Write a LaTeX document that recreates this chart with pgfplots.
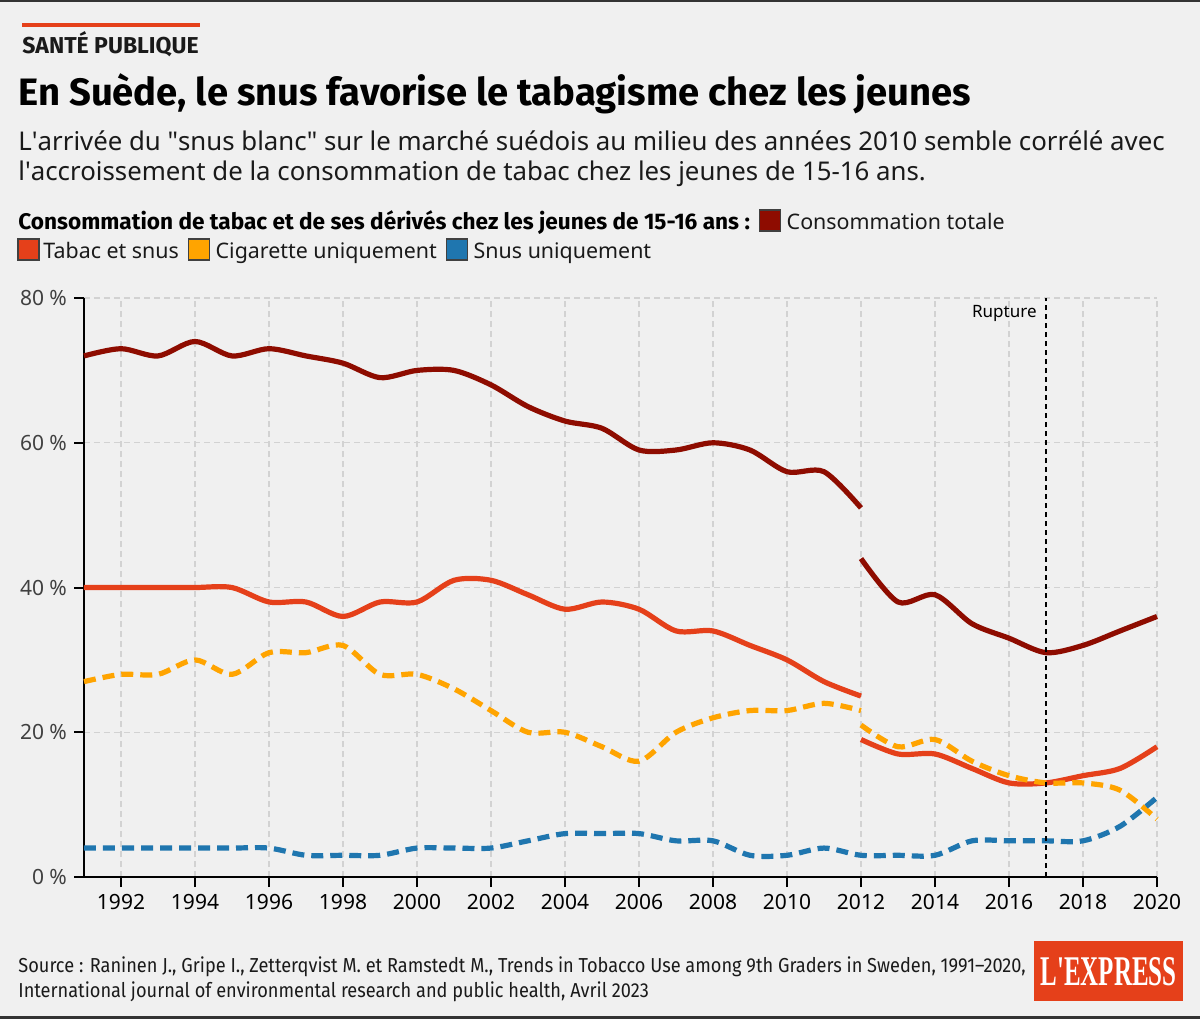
\documentclass[border=0pt]{standalone}
\usepackage{fontspec}
\setmainfont{Noto Sans}
\newfontfamily\titlefont{Fira Sans}
\newfontfamily\condfont{Fira Sans}[FakeStretch=0.9]
\newfontfamily\logofont{Liberation Serif}
\usepackage{pgfplots}
\usetikzlibrary{calc}
\pgfplotsset{compat=1.18}
\definecolor{bg}{HTML}{F0F0F0}
\definecolor{ctot}{HTML}{8E0C00}
\definecolor{ctab}{HTML}{E5401A}
\definecolor{ccig}{HTML}{FFA400}
\definecolor{csnus}{HTML}{1F76AF}
\definecolor{gridc}{HTML}{D2D2D2}
\definecolor{txt}{HTML}{1A1A1A}
\definecolor{ticklab}{HTML}{404040}

\pgfplotstableread{
year val
1991 72
1992 73
1993 72
1994 74
1995 72
1996 73
1997 72
1998 71
1999 69
2000 70
2001 70
2002 68
2003 65
2004 63
2005 62
2006 59
2007 59
2008 60
2009 59
2010 56
2011 56
2012 51
}\totA
\pgfplotstableread{
year val
2012 44
2013 38
2014 39
2015 35
2016 33
2017 31
2018 32
2019 34
2020 36
}\totB
\pgfplotstableread{
year val
1991 40
1992 40
1993 40
1994 40
1995 40
1996 38
1997 38
1998 36
1999 38
2000 38
2001 41
2002 41
2003 39
2004 37
2005 38
2006 37
2007 34
2008 34
2009 32
2010 30
2011 27
2012 25
}\tabA
\pgfplotstableread{
year val
2012 19
2013 17
2014 17
2015 15
2016 13
2017 13
2018 14
2019 15
2020 18
}\tabB
\pgfplotstableread{
year val
1991 27
1992 28
1993 28
1994 30
1995 28
1996 31
1997 31
1998 32
1999 28
2000 28
2001 26
2002 23
2003 20
2004 20
2005 18
2006 16
2007 20
2008 22
2009 23
2010 23
2011 24
2012 23
}\cigA
\pgfplotstableread{
year val
2012 21
2013 18
2014 19
2015 16
2016 14
2017 13
2018 13
2019 12
2020 8
}\cigB
\pgfplotstableread{
year val
1991 4
1992 4
1993 4
1994 4
1995 4
1996 4
1997 3
1998 3
1999 3
2000 4
2001 4
2002 4
2003 5
2004 6
2005 6
2006 6
2007 5
2008 5
2009 3
2010 3
2011 4
2012 3
2013 3
2014 3
2015 5
2016 5
2017 5
2018 5
2019 7
2020 11
}\snus

\begin{document}
\begin{tikzpicture}
\begin{scope}[x=0.5pt,y=-0.5pt]
\fill[bg] (0,0) rectangle (1200,1019);
\useasboundingbox (0,0) rectangle (1200,1019);
\fill[black!80] (0,0) rectangle (1200,2);
\fill[black!80] (0,1016) rectangle (1200,1019);
% kicker
\draw[ctab, line width=2pt] (22,25) -- (200,25);
\node[anchor=base west, inner sep=0, text=txt, font=\titlefont\bfseries\fontsize{11.5}{13}\selectfont] at (22,53) {SANTÉ PUBLIQUE};
% title
\node[anchor=base west, inner sep=0, text=black, font=\titlefont\bfseries\fontsize{19.1}{22}\selectfont] at (18,105) {En Suède, le snus favorise le tabagisme chez les jeunes};
% subtitle
\node[anchor=base west, inner sep=0, text=txt, font=\fontsize{12.9}{15}\selectfont] at (18,150) {L\textquotesingle arrivée du \textquotedbl snus blanc\textquotedbl{} sur le marché suédois au milieu des années 2010 semble corrélé avec};
\node[anchor=base west, inner sep=0, text=txt, font=\fontsize{12.9}{15}\selectfont] at (18,180) {l\textquotesingle accroissement de la consommation de tabac chez les jeunes de 15-16 ans.};
% legend line 1
\node[anchor=base west, inner sep=0, text=black, font=\titlefont\bfseries\fontsize{11.3}{13}\selectfont] (l0) at (18,229) {Consommation de tabac et de ses dérivés chez les jeunes de 15-16 ans :};
\path (l0.base east) ++(9,0) coordinate (s1);
\filldraw[fill=ctot, draw=black!75, line width=0.6pt] ($(s1)+(0,2)$) rectangle ++(21,-21);
\node[anchor=base west, inner sep=0, text=txt, font=\fontsize{10.7}{13}\selectfont] (l1) at ($(s1)+(27,0)$) {Consommation totale};
% legend line 2
\filldraw[fill=ctab, draw=black!75, line width=0.6pt] (18,260) rectangle ++(21,-21);
\node[anchor=base west, inner sep=0, text=txt, font=\fontsize{10.7}{13}\selectfont] (l2) at (43,258) {Tabac et snus};
\path (l2.base east) ++(9,0) coordinate (s3);
\filldraw[fill=ccig, draw=black!75, line width=0.6pt] ($(s3)+(0,2)$) rectangle ++(21,-21);
\node[anchor=base west, inner sep=0, text=txt, font=\fontsize{10.7}{13}\selectfont] (l3) at ($(s3)+(27,0)$) {Cigarette uniquement};
\path (l3.base east) ++(9,0) coordinate (s4);
\filldraw[fill=csnus, draw=black!75, line width=0.6pt] ($(s4)+(0,2)$) rectangle ++(21,-21);
\node[anchor=base west, inner sep=0, text=txt, font=\fontsize{10.7}{13}\selectfont] (l4) at ($(s4)+(27,0)$) {Snus uniquement};
% source
\node[anchor=base west, inner sep=0, text=txt, font=\condfont\fontsize{10.1}{12}\selectfont] at (18,972) {Source : Raninen J., Gripe I., Zetterqvist M. et Ramstedt M., Trends in Tobacco Use among 9th Graders in Sweden, 1991–2020,};
\node[anchor=base west, inner sep=0, text=txt, font=\condfont\fontsize{10.1}{12}\selectfont] at (18,997) {International journal of environmental research and public health, Avril 2023};
% logo
\fill[ctab] (1034,941) rectangle (1183,1001);
\node[inner sep=0, text=white] at (1108.5,971.5) {\resizebox{68pt}{14pt}{\logofont\bfseries L\textquotesingle EXPRESS}};
\end{scope}
\begin{axis}[
  at={(42pt,-438.5pt)}, anchor=south west,
  scale only axis, width=536.5pt, height=289.5pt,
  xmin=1991, xmax=2020, ymin=0, ymax=80,
  axis lines=left,
  axis line style={-},
  x axis line style={line width=1.2pt, black},
  y axis line style={line width=1pt, black},
  xtick={1992,1994,1996,1998,2000,2002,2004,2006,2008,2010,2012,2014,2016,2018,2020},
  xticklabels={1992,1994,1996,1998,2000,2002,2004,2006,2008,2010,2012,2014,2016,2018,2020},
  ytick={0,20,40,60,80},
  yticklabels={0~\%,20~\%,40~\%,60~\%,80~\%},
  tick align=outside, major tick length=5pt,
  tick style={black, line width=1pt},
  grid=major,
  major grid style={gridc, line width=0.6pt, dash pattern=on 3pt off 2pt},
  ticklabel style={font=\fontsize{10.5}{12}\selectfont},
  /pgf/number format/assume math mode=true,
  yticklabel style={text=ticklab},
  xticklabel style={text=black},
  clip=false,
]
\addplot[ctot, line width=2.6pt, smooth, tension=0.5] table[x=year,y=val] {\totA};
\addplot[ctot, line width=2.6pt, smooth, tension=0.5] table[x=year,y=val] {\totB};
\addplot[ctab, line width=2.6pt, smooth, tension=0.5] table[x=year,y=val] {\tabA};
\addplot[ctab, line width=2.6pt, smooth, tension=0.5] table[x=year,y=val] {\tabB};
\addplot[ccig, line width=2.6pt, smooth, tension=0.5, dash pattern=on 6pt off 3.5pt] table[x=year,y=val] {\cigA};
\addplot[ccig, line width=2.6pt, smooth, tension=0.5, dash pattern=on 6pt off 3.5pt] table[x=year,y=val] {\cigB};
\addplot[csnus, line width=2.6pt, smooth, tension=0.5, dash pattern=on 6pt off 3.5pt] table[x=year,y=val] {\snus};
\draw[black, line width=0.7pt, dash pattern=on 2.5pt off 2pt] (axis cs:2017,0) -- (axis cs:2017,80);
\node[anchor=base east, inner sep=0, xshift=-4.5pt, font=\fontsize{8.5}{10}\selectfont, text=black] at (axis cs:2017,77.3) {Rupture};
\end{axis}
\end{tikzpicture}
\end{document}
